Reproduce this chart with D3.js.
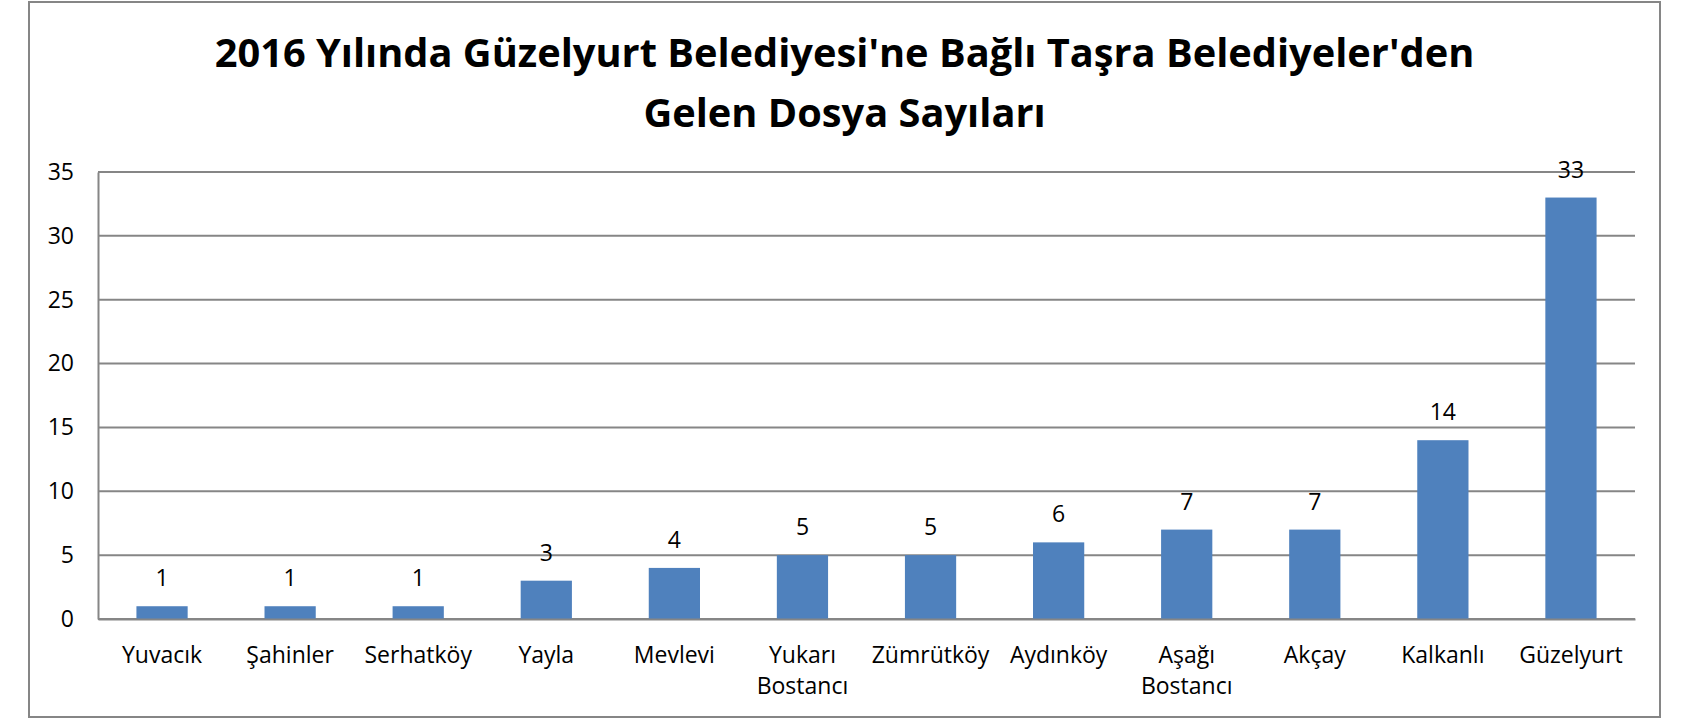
<!DOCTYPE html>
<meta charset="utf-8">
<script src="https://d3js.org/d3.v7.min.js"></script>
<style>
  body { margin: 0; background: #fff; }
  svg text { font-family: 'Open Sans', sans-serif; fill: #000; }
</style>
<body>
<div id="my_dataviz"></div>
</body>
<script>

// data
var titleLines = ["2016 Yılında Güzelyurt Belediyesi'ne Bağlı Taşra Belediyeler'den", "Gelen Dosya Sayıları"];
var categories = ["Yuvacık", "Şahinler", "Serhatköy", "Yayla", "Mevlevi", "Yukarı Bostancı", "Zümrütköy", "Aydınköy", "Aşağı Bostancı", "Akçay", "Kalkanlı", "Güzelyurt"];
var values = [1, 1, 1, 3, 4, 5, 5, 6, 7, 7, 14, 33];
var yTicks = [0, 5, 10, 15, 20, 25, 30, 35];

var W = 1704, H = 719;
var frame = {left: 29, top: 2, right: 1660, bottom: 717};
var margin = {top: 172, right: W - 1635, bottom: H - 619, left: 98},
    width = W - margin.left - margin.right,
    height = H - margin.top - margin.bottom;

var grey = "#868686", barColor = "#4F81BD";
var fontSize = "23px";

var root = d3.select("#my_dataviz")
  .append("svg")
    .attr("width", W)
    .attr("height", H);

// outer chart frame
root.append("rect")
  .attr("x", frame.left).attr("y", frame.top)
  .attr("width", frame.right - frame.left)
  .attr("height", frame.bottom - frame.top)
  .attr("fill", "none")
  .attr("stroke", grey)
  .attr("stroke-width", 2);

// title, sized so the first line spans the same width as the original
var cx = (frame.left + frame.right) / 2;
var t1 = root.append("text")
  .attr("x", cx).attr("y", 67)
  .attr("text-anchor", "middle")
  .style("font-weight", 700)
  .style("font-size", "40px")
  .text(titleLines[0]);
var fs = 40 * 1260 / t1.node().getComputedTextLength();
t1.style("font-size", fs + "px");
root.append("text")
  .attr("x", cx).attr("y", 127)
  .attr("text-anchor", "middle")
  .style("font-weight", 700)
  .style("font-size", fs + "px")
  .text(titleLines[1]);

var svg = root.append("g")
  .attr("transform", "translate(" + margin.left + "," + margin.top + ")");

// scales
var x = d3.scaleBand()
  .domain(categories)
  .range([0, width])
  .paddingInner(0.6)
  .paddingOuter(0.3);

var y = d3.scaleLinear()
  .domain([0, 35])
  .range([height, 0]);

// gridlines
svg.append("g")
  .selectAll("line")
  .data(yTicks)
  .enter()
  .append("line")
    .attr("x1", 0).attr("x2", width)
    .attr("y1", function(d) { return y(d); })
    .attr("y2", function(d) { return y(d); })
    .attr("stroke", grey)
    .attr("stroke-width", 2);

// Y axis
var yAxis = svg.append("g")
  .call(d3.axisLeft(y).tickValues(yTicks).tickSize(0).tickPadding(24));
yAxis.select(".domain").attr("stroke", grey).attr("stroke-width", 2);
yAxis.selectAll("text")
  .style("font-family", "'Open Sans', sans-serif")
  .style("font-size", fontSize)
  .attr("fill", "#000");

// bars
svg.selectAll("rect.bar")
  .data(values)
  .enter()
  .append("rect")
    .attr("class", "bar")
    .attr("x", function(d, i) { return x(categories[i]); })
    .attr("y", function(d) { return y(d); })
    .attr("width", x.bandwidth())
    .attr("height", function(d) { return height - y(d); })
    .attr("fill", barColor);

// value labels
svg.selectAll("text.val")
  .data(values)
  .enter()
  .append("text")
    .attr("class", "val")
    .attr("x", function(d, i) { return x(categories[i]) + x.bandwidth() / 2; })
    .attr("y", function(d) { return y(d) - 20; })
    .attr("text-anchor", "middle")
    .style("font-size", fontSize)
    .text(function(d) { return d; });

// X axis (zero line + category labels, wrapped when too wide)
var xAxis = svg.append("g")
  .attr("transform", "translate(0," + height + ")")
  .call(d3.axisBottom(x).tickSize(0).tickFormat(""));
xAxis.select(".domain").attr("stroke", grey).attr("stroke-width", 2);

var step = x.step();
categories.forEach(function(c) {
  var t = svg.append("text")
    .attr("x", x(c) + x.bandwidth() / 2)
    .attr("y", height + 44)
    .attr("text-anchor", "middle")
    .style("font-size", fontSize)
    .text(c);
  if (t.node().getComputedTextLength() > step - 4) {
    var words = c.split(" ");
    t.text(null);
    words.forEach(function(w, k) {
      t.append("tspan")
        .attr("x", x(c) + x.bandwidth() / 2)
        .attr("dy", k === 0 ? 0 : 31)
        .text(w);
    });
  }
});

</script>
